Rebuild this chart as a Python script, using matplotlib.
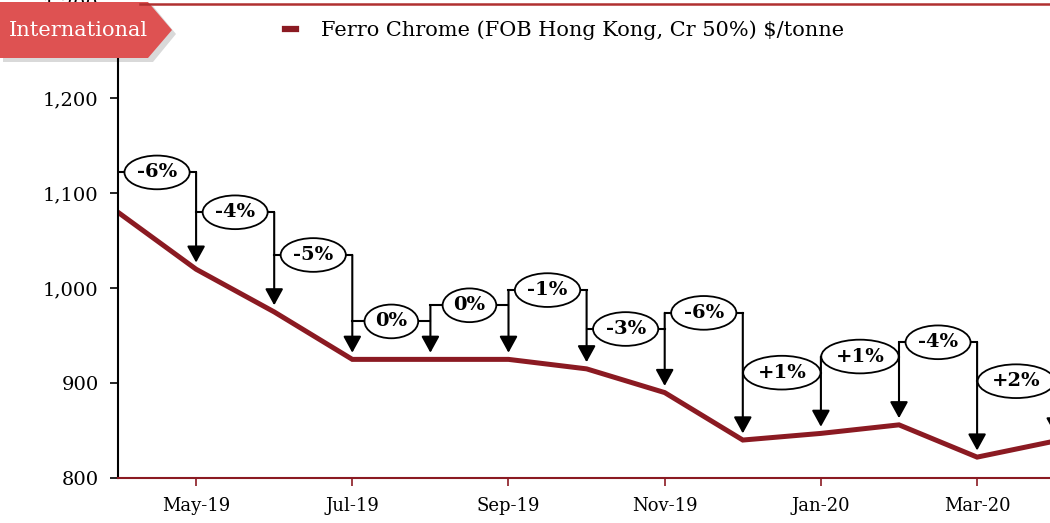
import matplotlib.pyplot as plt
from matplotlib.patches import Polygon
from matplotlib.lines import Line2D

months = ["Apr-19", "May-19", "Jun-19", "Jul-19", "Aug-19", "Sep-19", "Oct-19",
          "Nov-19", "Dec-19", "Jan-20", "Feb-20", "Mar-20", "Apr-20"]
prices = [1080, 1020, 975, 925, 925, 925, 915, 890, 840, 847, 856, 822, 839]
changes = ["-6%", "-4%", "-5%", "0%", "0%", "-1%", "-3%", "-6%",
           "+1%", "+1%", "-4%", "+2%"]
# height (in $/t) at which each change bubble sits
label_levels = [1122, 1080, 1035, 965, 982, 998, 957, 974, 911, 928, 943, 902]

red = "#8B1A22"
plt.rcParams['font.family'] = ['DejaVu Serif']

W, H = 1050, 523
fig = plt.figure(figsize=(W / 100, H / 100), dpi=100)
px_month = 78.1
xmax = 12.4
ax = fig.add_axes([118 / W, 45 / H, xmax * px_month / W, (478 - 3.5) / H])

x = list(range(len(months)))
ax.plot(x, prices, color=red, lw=3.6, solid_joinstyle="miter", zorder=2)
ax.set_xlim(0, xmax)
ax.set_ylim(800, 1300)

for i in range(1, len(months)):
    lev = label_levels[i - 1]
    ax.plot([x[i - 1], x[i]], [lev, lev], color="black", lw=1.5, zorder=3)
    top = lev
    if i < len(changes):
        top = max(lev, label_levels[i])
    ax.annotate("", xy=(x[i], prices[i] + 7), xytext=(x[i], top),
                arrowprops=dict(arrowstyle="-|>,head_length=1.0,head_width=0.55",
                                color="black", lw=1.5, shrinkA=0, shrinkB=0),
                zorder=3, annotation_clip=False)
    ax.text((x[i - 1] + x[i]) / 2, lev, changes[i - 1], ha="center", va="center",
            fontsize=14, fontweight="bold", zorder=4,
            bbox=dict(boxstyle="ellipse,pad=0.15", fc="white", ec="black", lw=1.3))

ax.set_yticks([800, 900, 1000, 1100, 1200, 1300])
ax.set_yticklabels(["800", "900", "1,000", "1,100", "1,200", "1,300"])
ax.set_xticks([1, 3, 5, 7, 9, 11])
ax.set_xticklabels([months[k] for k in [1, 3, 5, 7, 9, 11]])
ax.tick_params(axis="y", length=6, width=1.2, labelsize=14, pad=8, colors="black")
ax.tick_params(axis="x", length=6, width=1.2, labelsize=13, pad=8, color=red,
               labelcolor="black")
for s in ["top", "right"]:
    ax.spines[s].set_visible(False)
ax.spines["left"].set_linewidth(1.5)
ax.spines["bottom"].set_color(red)
ax.spines["bottom"].set_linewidth(1.5)

# legend
leg_handle = Line2D([], [], color=red, lw=4.5)
fig.legend([leg_handle], ["Ferro Chrome (FOB Hong Kong, Cr 50%) $/tonne"],
           loc="center left", bbox_to_anchor=(266 / W, 1 - 30 / H), frameon=False,
           fontsize=15, handlelength=0.55, handletextpad=1.2)

# page decoration: top rule and section tag
fig.add_artist(Line2D([140 / W, 1], [1 - 4 / H, 1 - 4 / H], color="#B03030", lw=1.8))
shadow = Polygon([(3 / W, 1 - 6 / H), (153 / W, 1 - 6 / H), (176 / W, 1 - 34 / H),
                  (153 / W, 1 - 62 / H), (3 / W, 1 - 62 / H)],
                 closed=True, fc="#000000", alpha=0.15, ec="none",
                 transform=fig.transFigure)
tag = Polygon([(0, 1 - 2 / H), (148 / W, 1 - 2 / H), (172 / W, 1 - 30 / H),
               (148 / W, 1 - 58 / H), (0, 1 - 58 / H)],
              closed=True, fc="#DE5252", ec="none", transform=fig.transFigure)
fig.add_artist(shadow)
fig.add_artist(tag)
fig.text(78 / W, 1 - 30 / H, "International", color="white", fontsize=15,
         ha="center", va="center")

fig.savefig("out.png", dpi=100)
